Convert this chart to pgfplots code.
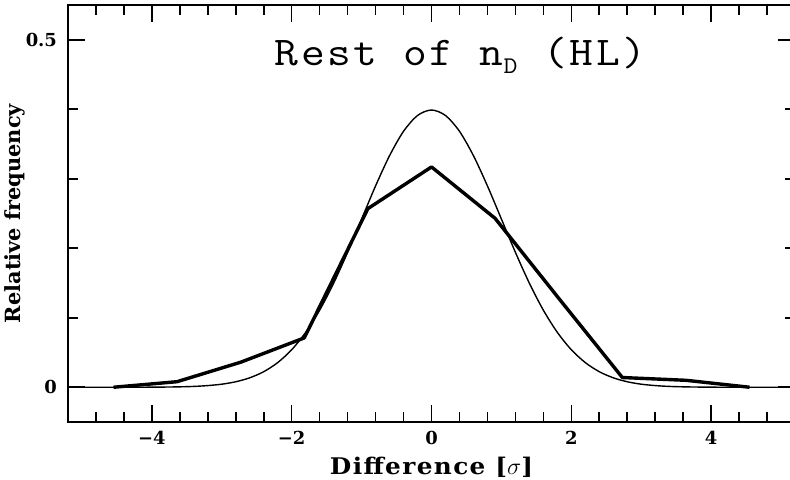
\documentclass[border=0pt]{standalone}
\usepackage{fontspec}
\setmainfont{DejaVu Serif}
\newfontfamily\titlefont[FakeStretch=1.13, LetterSpace=6]{Latin Modern Mono}
\newfontfamily\xlabelfont[FakeStretch=1.08, LetterSpace=6]{DejaVu Serif}
\usepackage{pgfplots}
\usepackage{pgfplotstable}
\pgfplotsset{compat=1.18}

% observed distribution (bin centres, relative frequency)
\pgfplotstableread{
x      y
-4.55  0.000
-3.64  0.008
-2.73  0.036
-1.82  0.071
-0.91  0.257
0.00   0.317
0.91   0.243
1.82   0.128
2.73   0.014
3.64   0.010
4.55   0.000
}\obsdata

% unit normal curve, tabulated
\pgfplotstableread{
x     y
-5.2  0.0000
-4.8  0.0000
-4.4  0.0000
-4.0  0.0001
-3.8  0.0003
-3.6  0.0006
-3.4  0.0012
-3.2  0.0024
-3.0  0.0044
-2.8  0.0079
-2.6  0.0136
-2.4  0.0224
-2.2  0.0355
-2.0  0.0540
-1.8  0.0790
-1.6  0.1109
-1.4  0.1497
-1.2  0.1942
-1.0  0.2420
-0.8  0.2897
-0.6  0.3332
-0.4  0.3683
-0.2  0.3910
0.0   0.3989
0.2   0.3910
0.4   0.3683
0.6   0.3332
0.8   0.2897
1.0   0.2420
1.2   0.1942
1.4   0.1497
1.6   0.1109
1.8   0.0790
2.0   0.0540
2.2   0.0355
2.4   0.0224
2.6   0.0136
2.8   0.0079
3.0   0.0044
3.2   0.0024
3.4   0.0012
3.6   0.0006
3.8   0.0003
4.0   0.0001
4.4   0.0000
4.8   0.0000
5.2   0.0000
}\gaussdata

\begin{document}
\begin{tikzpicture}
\begin{axis}[
    at={(34bp,29bp)}, anchor=south west,
    scale only axis,
    width=363.5bp, height=208.5bp,
    xmin=-5.2, xmax=5.2,
    ymin=-0.05, ymax=0.55,
    axis line style={line width=1bp},
    xtick={-4,-2,0,2,4},
    xticklabels={−4,−2,0,2,4},
    minor xtick={-4.8,-4.4,-3.6,-3.2,-2.8,-2.4,-1.6,-1.2,-0.8,-0.4,
                 0.4,0.8,1.2,1.6,2.4,2.8,3.2,3.6,4.4,4.8},
    ytick={0,0.5},
    yticklabels={0,0.5},
    minor ytick={0.1,0.2,0.3,0.4},
    tick align=inside,
    major tick length=8.5bp,
    minor tick length=5bp,
    every tick/.style={line width=0.8bp, black},
    ticklabel style={font=\fontsize{9}{10}\selectfont\bfseries},
    yticklabel style={xshift=-2bp},
    xticklabel style={yshift=-1bp},
    xlabel={Difference [$\sigma$]},
    ylabel={Relative frequency},
    xlabel style={at={(axis description cs:0.5,-0.125)}, anchor=base,
                  font=\xlabelfont\fontsize{11.5}{13}\selectfont\bfseries},
    ylabel style={at={(axis description cs:-0.073,0.5)}, anchor=center,
                  font=\fontsize{10.5}{12}\selectfont\bfseries},
    title={Rest of n\raisebox{-0.45ex}{\fontsize{12}{12}\selectfont D} (HL)},
    title style={at={(axis description cs:0.54,0.85)}, anchor=center,
                 font=\titlefont\fontsize{20.5}{22}\selectfont},
]
\addplot[black, line width=0.7bp, smooth, tension=0.5] table[x=x, y=y] {\gaussdata};
\addplot[black, line width=1.7bp, line join=round] table[x=x, y=y] {\obsdata};
\end{axis}
\pgfresetboundingbox
\useasboundingbox (0,0) rectangle (395bp,240bp);
\end{tikzpicture}
\end{document}
